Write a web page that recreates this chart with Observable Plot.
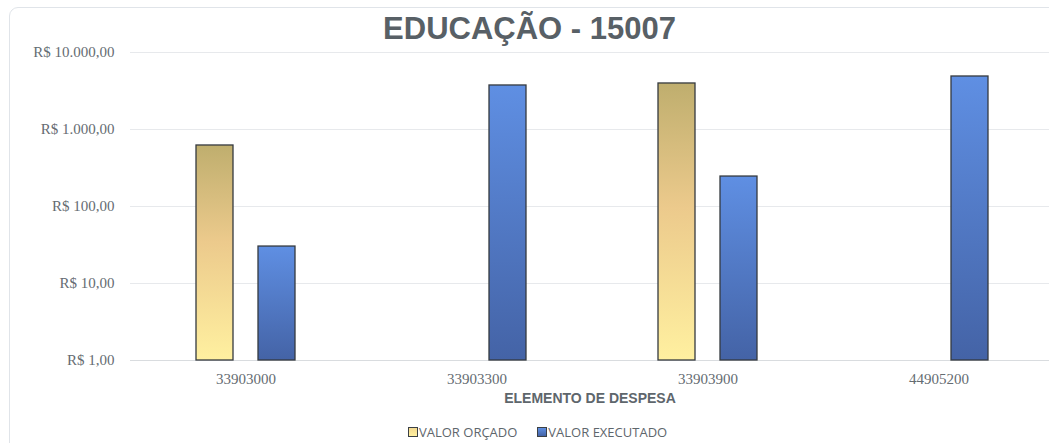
<!DOCTYPE html>
<html><head><meta charset="utf-8">
<script src="https://cdn.jsdelivr.net/npm/d3@7"></script>
<script src="https://cdn.jsdelivr.net/npm/@observablehq/plot@0.6"></script>
<style>
body{margin:0;background:#fff;width:1049px;height:443px;overflow:hidden;position:relative;font-family:"Liberation Sans",Arial,sans-serif}
#frame{position:absolute;left:9px;top:7px;width:1100px;height:500px;border:1px solid #e0e4e9;border-radius:9px;box-sizing:border-box}
#chart{position:absolute;left:0;top:0}
#title{position:absolute;left:0;width:1059px;top:13px;line-height:31px;text-align:center;font-weight:bold;font-size:31px;color:#586066;white-space:nowrap}
#xlabel{position:absolute;left:0;width:1180px;top:391px;line-height:14px;text-align:center;font-weight:bold;font-size:14px;color:#5e666c;white-space:nowrap}
#legend{position:absolute;left:408px;top:424px;line-height:16px;font-family:"Open Sans",sans-serif;font-size:13px;color:#5e666c;white-space:nowrap;display:flex;gap:20px}
#legend .item{display:flex;align-items:center}
#legend .sw{width:8px;height:8px;border:1px solid #3b4045;margin-right:1px}
</style></head>
<body>
<div id="frame"></div>
<div id="chart"></div>
<div id="title"></div>
<div id="xlabel"></div>
<div id="legend"></div>
<script>
const titulo = "EDUCAÇÃO - 15007";
const eixoX = "ELEMENTO DE DESPESA";
const categorias = ["33903000", "33903300", "33903900", "44905200"];
const series = ["VALOR ORÇADO", "VALOR EXECUTADO"];
const valorOrcado = [620, null, 3960, null];
const valorExecutado = [30.2, 3730, 245, 4880];
const yTicks = [1, 10, 100, 1000, 10000];

const gradients = [
  {id: "gOrc", stops: [["0%", "#bfae6e"], ["45%", "#ecca8c"], ["100%", "#fff0a0"]], swatch: "linear-gradient(#f3d98f,#fff0a0)"},
  {id: "gExe", stops: [["0%", "#5f8fe3"], ["100%", "#4463a6"]], swatch: "linear-gradient(#5f8fe3,#4463a6)"}
];

const data = [];
categorias.forEach((c, i) => {
  if (valorOrcado[i] != null) data.push({cat: c, serie: series[0], valor: valorOrcado[i]});
  if (valorExecutado[i] != null) data.push({cat: c, serie: series[1], valor: valorExecutado[i]});
});

const brl = d3.formatLocale({decimal: ",", thousands: ".", grouping: [3], currency: ["R$ ", ""]}).format("$,.2f");

const chart = Plot.plot({
  width: 1049,
  height: 443,
  marginTop: 52,
  marginBottom: 83,
  marginLeft: 129,
  marginRight: -5,
  style: {fontFamily: "'Liberation Serif', 'Times New Roman', serif", fontSize: "15px", color: "#656c72", background: "transparent"},
  fx: {domain: categorias, padding: 0, label: null, axis: "bottom", tickSize: 0, tickPadding: 13},
  x: {domain: series, paddingInner: 0.4, paddingOuter: 1.035, axis: null},
  y: {type: "log", domain: [1, 10000], ticks: yTicks, tickFormat: brl, label: null, tickSize: 0, tickPadding: 16},
  color: {domain: series, range: gradients.map(g => `url(#${g.id})`)},
  marks: [
    Plot.ruleY(yTicks.slice(1), {stroke: "#e7e9ec", strokeWidth: 1}),
    Plot.ruleY([1], {stroke: "#d9dcdf", strokeWidth: 1}),
    Plot.barY(data, {fx: "cat", x: "serie", y1: 1, y2: "valor", fill: "serie", stroke: "#353a3f", strokeWidth: 1.3})
  ]
});

const defs = d3.select(chart).insert("defs", ":first-child");
gradients.forEach(g => {
  const lg = defs.append("linearGradient").attr("id", g.id).attr("x1", 0).attr("y1", 0).attr("x2", 0).attr("y2", 1);
  g.stops.forEach(([o, c]) => lg.append("stop").attr("offset", o).attr("stop-color", c));
});

document.getElementById("chart").appendChild(chart);
document.getElementById("title").textContent = titulo;
document.getElementById("xlabel").textContent = eixoX;
const legend = d3.select("#legend");
series.forEach((s, i) => {
  const it = legend.append("div").attr("class", "item");
  it.append("div").attr("class", "sw").style("background", gradients[i].swatch);
  it.append("span").text(s);
});
</script>
</body></html>
